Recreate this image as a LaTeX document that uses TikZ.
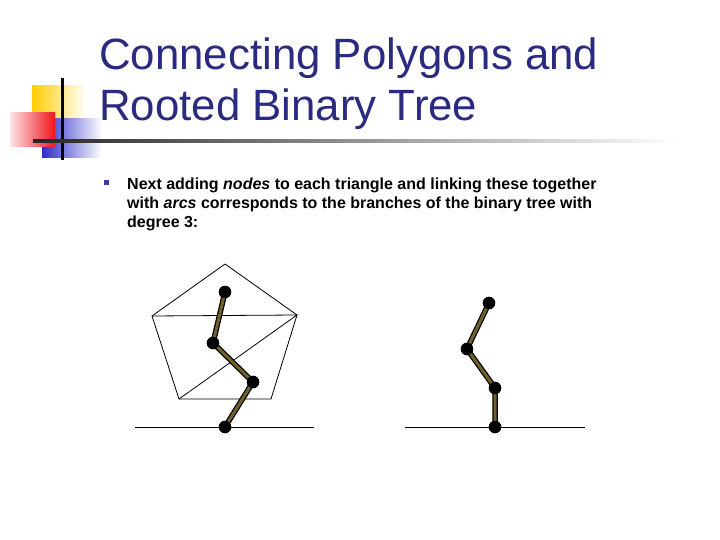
\documentclass[tikz,border=0pt]{standalone}
\usepackage{fontspec}
\setmainfont{Liberation Sans}
\definecolor{titleblue}{RGB}{42,42,128}
\definecolor{bulletblue}{RGB}{60,60,160}
\definecolor{arcolive}{RGB}{112,96,42}
\definecolor{logoyellow}{RGB}{255,204,0}
\definecolor{logoblue}{RGB}{45,45,200}
\definecolor{logored}{RGB}{240,20,30}
\begin{document}
\begin{tikzpicture}[x=1pt,y=-1pt,
  treenode/.style={circle,fill=black,draw=black,inner sep=0pt,minimum size=12pt},
  arcout/.style={draw=black,line width=5.5pt},
  arcin/.style={draw=arcolive,line width=3pt},
  polyline/.style={draw=black,line width=0.8pt},
  baseline/.style={draw=black,line width=0.9pt},
  titletext/.style={anchor=base west,inner sep=0pt,text=titleblue,font=\fontsize{43.8}{50}\selectfont},
  bodytext/.style={anchor=base west,inner sep=0pt,font=\bfseries\fontsize{16}{19}\selectfont}]
\useasboundingbox (0,0) rectangle (720,540);
\fill[white] (0,0) rectangle (720,540);
% logo
\shade[left color=logoyellow,right color=white] (32,86) rectangle (86,125);
\shade[left color=logoblue,right color=white] (42,119) rectangle (102,158);
\shade[left color=logored!12,right color=logored] (10,113) rectangle (55,147);
\fill[black] (60.5,78) rectangle (63.5,160);
\shade[left color=black!85,right color=white] (33,139.6) rectangle (680,142.4);
% title
\node[titletext] (t1) at (99,70) {Connecting Polygons and};
\node[titletext] (t2) at (99,121) {Rooted Binary Tree};
% bullet
\fill[bulletblue] (104,180) rectangle (109,185);
\node[bodytext] (l1) at (127,190) {Next adding \textit{nodes} to each triangle and linking these together};
\node[bodytext] (l2) at (127,208) {with \textit{arcs} corresponds to the branches of the binary tree with};
\node[bodytext] (l3) at (127,227) {degree 3:};
% pentagon
\coordinate (pt) at (225,264);
\coordinate (pl) at (152,316);
\coordinate (pr) at (297,315);
\coordinate (pbl) at (179,399);
\coordinate (pbr) at (271,399);
\draw[polyline] (pt) -- (pr) -- (pbr) -- (pbl) -- (pl) -- cycle;
\draw[polyline] (pl) -- (pr) -- (pbl);
\coordinate (b1l) at (135,427);
\coordinate (b1r) at (314,427);
\draw[baseline] (b1l) -- (b1r);
% left tree
\node[treenode] (a1) at (225,292) {};
\node[treenode] (a2) at (213,343) {};
\node[treenode] (a3) at (253,382) {};
\node[treenode] (a4) at (225,427) {};
\draw[arcout] (a1.center) -- (a2.center) -- (a3.center) -- (a4.center);
\draw[arcin] (a1.center) -- (a2.center) -- (a3.center) -- (a4.center);
\node[treenode] at (a1) {};
\node[treenode] at (a2) {};
\node[treenode] at (a3) {};
\node[treenode] at (a4) {};
% right tree
\coordinate (b2l) at (405,427);
\coordinate (b2r) at (585,427);
\draw[baseline] (b2l) -- (b2r);
\node[treenode] (c1) at (489,303) {};
\node[treenode] (c2) at (467,349) {};
\node[treenode] (c3) at (495,388) {};
\node[treenode] (c4) at (495,427) {};
\draw[arcout] (c1.center) -- (c2.center) -- (c3.center) -- (c4.center);
\draw[arcin] (c1.center) -- (c2.center) -- (c3.center) -- (c4.center);
\node[treenode] at (c1) {};
\node[treenode] at (c2) {};
\node[treenode] at (c3) {};
\node[treenode] at (c4) {};
\end{tikzpicture}
\end{document}
